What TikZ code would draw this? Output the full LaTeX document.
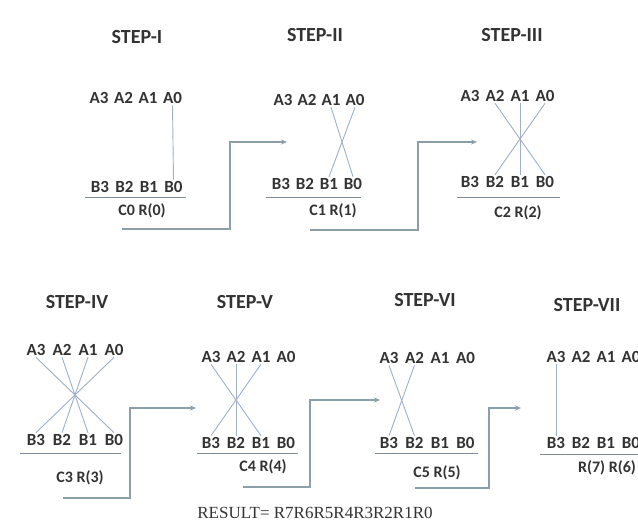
\documentclass[tikz,border=0pt]{standalone}
\usepackage{fontspec}
\setmainfont{Carlito}
\newfontfamily\resfont{Liberation Serif}
\usetikzlibrary{arrows.meta}
\definecolor{txt}{HTML}{333333}
\definecolor{xline}{HTML}{9FB0CC}
\definecolor{conn}{HTML}{8C9EA8}
\definecolor{uline}{HTML}{7F8A96}
\newcommand\steprows[6]{%
  \foreach \nn/\jj in {3/0,2/1,1/2,0/3}{%
    \node[lbl] (#1a\nn) at ({#2+#4*\jj},#3) {A\nn};
    \node[lbl] (#1b\nn) at ({#2+#4*\jj+#6},#5) {B\nn};
  }}
\begin{document}
\begin{tikzpicture}[x=1pt,y=-1pt,
  title/.style={font=\bfseries\fontsize{20}{22}\selectfont, text=txt, inner sep=1pt},
  lbl/.style={font=\bfseries\fontsize{17}{19}\selectfont, text=txt, inner sep=1.5pt},
  clbl/.style={font=\bfseries\fontsize{16}{18}\selectfont, text=txt, inner sep=1pt},
  wire/.style={draw=xline, line width=0.9pt},
  under/.style={draw=uline, line width=1pt},
  flow/.style={draw=conn, line width=1.2pt, -{Stealth[length=6pt,width=5pt]}}]
\useasboundingbox[fill=white] (0,0) rectangle (638,527);

% titles
\node[title] (t1) at (137,37) {STEP-I};
\node[title] (t2) at (315,35) {STEP-II};
\node[title] (t3) at (512,35) {STEP-III};
\node[title] (t4) at (77,302) {STEP-IV};
\node[title] (t5) at (245,302) {STEP-V};
\node[title] (t6) at (425,300) {STEP-VI};
\node[title] (t7) at (587,305) {STEP-VII};

% rows
\steprows{s1}{99}{98}{24.5}{187}{1}
\steprows{s2}{283}{100}{24}{184}{-2}
\steprows{s3}{470}{96}{25}{182}{0}
\steprows{s4}{36}{350}{26}{440}{0}
\steprows{s5}{211}{357}{25}{443}{0}
\steprows{s6}{389}{358}{25.5}{443}{0}
\steprows{s7}{556}{357}{25}{443}{0}

% underlines
\draw[under] (85,197) -- (186,197);
\draw[under] (266,197) -- (361,197);
\draw[under] (457,197) -- (560,197);
\draw[under] (20,453) -- (121,453);
\draw[under] (197,453) -- (298,453);
\draw[under] (375,453) -- (478,453);
\draw[under] (540,454) -- (640,454);

% carry / result labels
\node[clbl] (c0) at (142,211) {C0 R(0)};
\node[clbl] (c1) at (333,211) {C1 R(1)};
\node[clbl] (c2) at (518,213) {C2 R(2)};
\node[clbl] (c3) at (80,478) {C3 R(3)};
\node[clbl] (c4) at (263,467) {C4 R(4)};
\node[clbl] (c5) at (437,473) {C5 R(5)};
\node[clbl] (c6) at (607,468) {R(7) R(6)};

% cross-products
\draw[wire] (s1a0.south) -- (s1b0.north);
\draw[wire] (s2a1.south) -- (s2b0.north);
\draw[wire] (s2a0.south) -- (s2b1.north);
\draw[wire] (s3a2.south) -- (s3b0.north);
\draw[wire] (s3a1.south) -- (s3b1.north);
\draw[wire] (s3a0.south) -- (s3b2.north);
\draw[wire] (s4a3.south) -- (s4b0.north);
\draw[wire] (s4a2.south) -- (s4b1.north);
\draw[wire] (s4a1.south) -- (s4b2.north);
\draw[wire] (s4a0.south) -- (s4b3.north);
\draw[wire] (s5a3.south) -- (s5b1.north);
\draw[wire] (s5a2.south) -- (s5b2.north);
\draw[wire] (s5a1.south) -- (s5b3.north);
\draw[wire] (s6a3.south) -- (s6b2.north);
\draw[wire] (s6a2.south) -- (s6b3.north);
\draw[wire] (s7a3.south) -- (s7b3.north);

% carry flow connectors
\coordinate (f1s) at (122,229); \coordinate (f1e) at (287,142);
\coordinate (f2s) at (310,230); \coordinate (f2e) at (477,142);
\coordinate (f3s) at (63,498);  \coordinate (f3e) at (196,408);
\coordinate (f4s) at (243,487); \coordinate (f4e) at (380,400);
\coordinate (f5s) at (415,488); \coordinate (f5e) at (521,408);
\draw[flow] (f1s) -- ++(108,0) |- (f1e);
\draw[flow] (f2s) -- ++(108,0) |- (f2e);
\draw[flow] (f3s) -- ++(67,0) |- (f3e);
\draw[flow] (f4s) -- ++(67,0) |- (f4e);
\draw[flow] (f5s) -- ++(74,0) |- (f5e);

% result
\node[font=\resfont\fontsize{17}{19}\selectfont, text=txt] (res) at (315,513) {RESULT= R7R6R5R4R3R2R1R0};
\end{tikzpicture}
\end{document}
